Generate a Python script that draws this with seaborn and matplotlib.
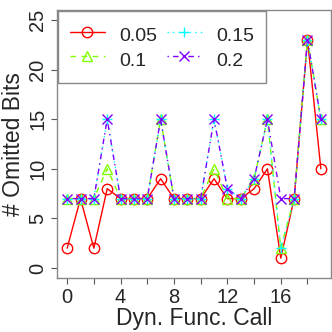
import numpy as np
import pandas as pd
import matplotlib
matplotlib.use('Agg')
from matplotlib import pyplot as plt
import seaborn as sns

# data
calls = list(range(20))
thresholds = ['0.05', '0.1', '0.15', '0.2']
bits_005 = [2, 7, 2, 8, 7, 7, 7, 9, 7, 7, 7, 9, 7, 7, 8, 10, 1, 7, 23, 10]
bits_010 = [7, 7, 7, 10, 7, 7, 7, 15, 7, 7, 7, 10, 7, 7, 9, 15, 2, 7, 23, 15]
bits_015 = [7, 7, 7, 15, 7, 7, 7, 15, 7, 7, 7, 15, 8, 7, 9, 15, 2, 7, 23, 15]
bits_020 = [7, 7, 7, 15, 7, 7, 7, 15, 7, 7, 7, 15, 8, 7, 9, 15, 7, 7, 23, 15]
xticks = [0, 2, 4, 6, 8, 10, 12, 14, 16, 18]
xticklabels = ['0', '', '4', '', '8', '', '12', '', '16', '']
yticks = [0, 5, 10, 15, 20, 25]

sns.set_style('ticks')
plt.rcParams['font.family'] = ['Liberation Sans', 'DejaVu Sans']

colors = ['#FF0000', '#80FF00', '#00FFFF', '#8000FF']
markers = ['o', '^', '+', 'x']
dashes = [(None, None), (4, 4), (1, 3), (1, 3, 4, 3)]
series = [bits_005, bits_010, bits_015, bits_020]

fig = plt.figure(figsize=(3.32, 3.32), dpi=100)
ax = fig.add_axes([57/332, 54/332, 274/332, 268/332])

for lab, ys, c, m, d in zip(thresholds, series, colors, markers, dashes):
    kw = {}
    if d[0] is not None:
        kw['dashes'] = d
    sns.lineplot(x=calls, y=ys, ax=ax, color=c, marker=m, markersize=7.5,
                 markerfacecolor='none', markeredgecolor=c, markeredgewidth=1,
                 linewidth=1, label=lab, **kw)

ax.set_xlim(-0.76, 19.76)
ax.set_ylim(-1, 26)
ax.set_xticks(xticks)
ax.set_xticklabels(xticklabels)
ax.set_yticks(yticks)
ax.set_yticklabels([str(v) for v in yticks], rotation=90, va='center')
ax.tick_params(labelsize=14.5, length=4, width=0.8, color='#555555', pad=3)
ax.set_xlabel('Dyn. Func. Call', fontsize=16.5, labelpad=0)
ax.set_ylabel('# Omitted Bits', fontsize=16.5, labelpad=2)
for s in ax.spines.values():
    s.set_color('#888888')
    s.set_linewidth(1)

leg = ax.legend(ncol=2, loc='upper left', bbox_to_anchor=(0, 1), borderaxespad=0.05,
                fontsize=14, frameon=True, fancybox=False, handlelength=1.8,
                handleheight=1.55, handletextpad=0.75, columnspacing=0.5,
                labelspacing=0.0, borderpad=0.6)
leg.get_frame().set_edgecolor('#888888')
leg.get_frame().set_linewidth(1)
leg.get_frame().set_alpha(1)

fig.savefig('out.png', dpi=100)
